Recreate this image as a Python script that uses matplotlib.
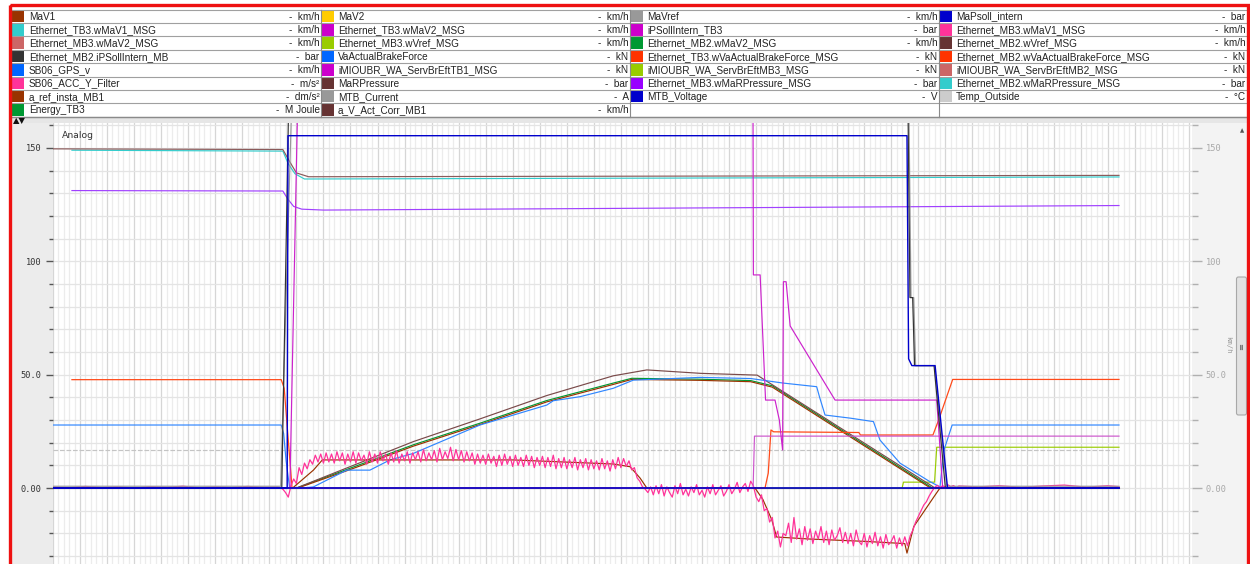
import numpy as np
import matplotlib.pyplot as plt
from matplotlib.patches import Rectangle, FancyBboxPatch
from matplotlib.ticker import MultipleLocator

# ---------------- legend table (4 columns) ----------------
names1 = ["MaV1", "Ethernet_TB3.wMaV1_MSG", "Ethernet_MB3.wMaV2_MSG", "Ethernet_MB2.iPSollIntern_MB",
          "SB06_GPS_v", "SB06_ACC_Y_Filter", "a_ref_insta_MB1", "Energy_TB3"]
units1 = ["km/h", "km/h", "km/h", "bar", "km/h", "m/s\u00b2", "dm/s\u00b2", "M Joule"]
colors1 = ["#993300", "#33cccc", "#cc6666", "#333333", "#0066ff", "#ff3399", "#993300", "#009933"]

names2 = ["MaV2", "Ethernet_TB3.wMaV2_MSG", "Ethernet_MB3.wVref_MSG", "VaActualBrakeForce",
          "iMIOUBR_WA_ServBrEftTB1_MSG", "MaRPressure", "MTB_Current", "a_V_Act_Corr_MB1"]
units2 = ["km/h", "km/h", "km/h", "kN", "kN", "bar", "A", "km/h"]
colors2 = ["#ffcc00", "#cc00cc", "#99cc00", "#0066ff", "#cc00cc", "#663333", "#999999", "#663333"]

names3 = ["MaVref", "iPSollIntern_TB3", "Ethernet_MB2.wMaV2_MSG", "Ethernet_TB3.wVaActualBrakeForce_MSG",
          "iMIOUBR_WA_ServBrEftMB3_MSG", "Ethernet_MB3.wMaRPressure_MSG", "MTB_Voltage"]
units3 = ["km/h", "bar", "km/h", "kN", "kN", "bar", "V"]
colors3 = ["#999999", "#cc00cc", "#009933", "#ff3300", "#99cc00", "#9900ff", "#0000cc"]

names4 = ["MaPsoll_intern", "Ethernet_MB3.wMaV1_MSG", "Ethernet_MB2.wVref_MSG",
          "Ethernet_MB2.wVaActualBrakeForce_MSG", "iMIOUBR_WA_ServBrEftMB2_MSG",
          "Ethernet_MB2.wMaRPressure_MSG", "Temp_Outside"]
units4 = ["bar", "km/h", "km/h", "kN", "kN", "bar", "\u00b0C"]
colors4 = ["#0000cc", "#ff3399", "#663333", "#ff3300", "#cc6666", "#33cccc", "#cccccc"]

# ---------------- signals (time in s, values in axis units) ----------------
t_top = [0, 85.0, 87.5, 90.0, 94.5, 394.2]
v_top = [149.6, 149.3, 144, 139, 137.3, 137.9]

t_cyan = [7.0, 85.0, 87.0, 89.5, 93.0, 394.2]
v_cyan = [149.0, 148.6, 143, 138.6, 136.3, 137.2]

t_purple = [7.0, 85.0, 86.8, 89.0, 92.0, 100, 394.2]
v_purple = [131.2, 131.0, 127.5, 124.2, 123.0, 122.6, 124.6]

t_ramp_hi = [0, 90.0, 110, 133.3, 157.9, 182.6, 207.2, 219.6, 239.3, 260.4, 326.2, 394.2]
v_ramp_hi = [0, 0, 9.5, 20.5, 30.5, 40.8, 49.5, 52.1, 50.6, 49.8, 0, 0]

t_mav1 = [0, 90.5, 110, 133.3, 157.9, 182.6, 207.2, 214, 239.3, 258, 266, 324.5, 394.2]
v_mav1 = [0, 0, 8.2, 18.5, 28.0, 38.0, 45.7, 47.9, 47.5, 46.9, 44.5, 0, 0]

t_mav2 = [0, 90.0, 110, 133.3, 157.9, 182.6, 207.2, 214, 239.3, 258, 266, 325.2, 394.2]
v_mav2 = [0, 0, 8.8, 19.1, 28.6, 38.6, 46.3, 48.4, 48.0, 47.4, 45.1, 0, 0]

t_gps = [0, 84.4, 85.3, 86.2, 87.5, 92.0, 96.3, 108.6, 117.2, 124.6, 133.3, 157.9, 182.6, 185,
         194.9, 207.2, 214.6, 239.3, 258, 270, 282.4, 283.5, 285.5, 295, 303.4, 305.8,
         313.2, 324.3, 328.0, 329.5, 332.5, 394.2]
v_gps = [27.8, 27.8, 24, 12, 0, 0, 0.5, 7.9, 7.9, 12.4, 15.3, 27.8, 36.6, 38.5,
         40.3, 44.0, 47.6, 48.8, 48.3, 46.3, 44.7, 40, 32.2, 30.8, 29.3, 21.2,
         11, 2.8, 0.5, 16.8, 27.8, 27.8]

t_volt = [0, 86.6, 86.9, 315.8, 316.4, 317.6, 326.2, 330.8, 394.2]
v_volt = [0, 0, 155.4, 155.4, 57, 54, 54, 0, 0]

t_psoll_mb = [0, 84.6, 87.6, 315.9, 316.9, 317.9, 318.6, 325.8, 330.0, 394.2]
v_psoll_mb = [0, 0, 200, 200, 84, 84, 54, 54, 0, 0]

t_current = [0, 84.2, 89.0, 316.2, 317.3, 318.3, 319.0, 326.0, 330.5, 394.2]
v_current = [0.8, 0.8, 200, 200, 84, 84, 54, 54, 0.8, 0.8]

t_psoll_tb3 = [0, 87.6, 91.0, 258.8, 259.0, 261.5, 263.5, 267.0, 268.6, 269.8, 270.1, 271.1,
               272.6, 289.2, 326.8, 329.0, 394.2]
v_psoll_tb3 = [0, 0, 200, 200, 94, 94, 38.8, 38.8, 30, 16.8, 91, 91, 71.5, 38.8, 38.8, 0, 0]

t_brake_tb1 = [0, 258.9, 259.4, 394.2]
v_brake_tb1 = [0, 0, 22.9, 22.9]

t_force = [7.0, 84.4, 85.5, 88.4, 263.3, 264.5, 265.5, 266.5, 298.0, 298.6, 325.4, 327.5, 332.7, 394.2]
v_force = [47.8, 47.8, 44, 0, 0, 6.6, 25.6, 24.8, 24.5, 23.4, 23.4, 30, 47.9, 47.9]

t_brake_mb3 = [0, 314.0, 314.5, 326.0, 326.8, 394.2]
v_brake_mb3 = [0, 0, 2.6, 2.6, 18.0, 18.0]

t_temp = [0, 394.2]
v_temp = [16.8, 16.8]

t_zero = [0, 394.2]
v_zero = [0, 0]

t_aref = [0, 88.6, 96.3, 99.6, 170, 207.2, 213.4, 217.1, 219.6, 259.6, 262.5, 265.8, 267.6, 280,
          300, 315.0, 315.8, 318.3, 325.8, 328.0, 394.2]
v_aref = [0, 0, 7.9, 12.4, 12.4, 10.6, 9.4, 4.4, 0, 0, -5, -14, -21.6, -22.5,
          -23.5, -24.5, -28.7, -17, -3.8, 0, 0]

# acceleration, sparse before/after, 1 s samples from t=84
acc_t_pre = [0, 6, 12, 18, 24, 30, 36, 42, 48, 54, 60, 66, 72, 78, 83]
acc_v_pre = [0.4, 0.1, 0.7, 0.2, 0.5, 0.0, 0.6, 0.3, 0.8, 0.1, 0.5, 0.2, 0.7, 0.3, 0.4]
acc_v_main = [
    0.2, -0.5, -2.0, -4.0, 1.0, 4.0, 2.0, 9.0, 6.0, 11.0, 8.5, 12.5, 10.5, 14.5, 11.5, 15.0,
    11.0, 15.5, 11.5, 15.0, 11.0, 16.0, 12.0, 15.5, 10.5, 15.0, 11.5, 16.0, 11.0, 15.5, 12.0, 14.5, 10.5, 16.0, 11.5, 15.0,
    11.0, 16.0, 12.0, 15.0, 10.5, 15.5, 11.5, 16.5, 11.0, 15.0, 12.0, 16.0, 11.0, 15.5, 12.5, 16.0, 11.5, 17.0, 12.0, 15.5,
    12.5, 16.5, 11.5, 17.5, 12.5, 16.0, 13.0, 18.0, 12.0, 17.0, 12.5, 16.5, 11.5, 16.0, 12.0, 15.5, 10.5, 15.0, 11.0, 14.5,
    10.5, 15.0, 11.0, 14.0, 9.5, 14.5, 10.0, 15.0, 10.5, 14.0, 9.5, 14.5, 10.0, 13.5, 9.5, 14.5, 10.0, 14.0, 9.0, 13.5,
    10.0, 14.0, 9.0, 13.5, 9.5, 14.5, 8.5, 13.0, 9.0, 13.5, 8.5, 12.5, 9.0, 13.5, 8.0, 12.5, 9.0, 13.0, 8.0, 12.5,
    8.5, 12.0, 8.0, 13.0, 8.5, 12.0, 7.5, 12.5, 8.5, 13.5, 9.0,
    13.0, 9.5, 12.0, 8.0, 9.0, 4.5, 3.0, 0.5, -0.5, -2.0, 0.5,
    -3.0, 1.0, -2.5, 1.5, -3.5, 0.5, -2.0, -4.0, 1.0, -2.5, 2.0, -3.0, -0.5, -3.5, 0.5, -2.0, 1.5, -3.0, -1.0,
    -4.0, 0.5, -2.5, 1.5, -3.0, -1.0, 1.0, -3.5, -1.5, 1.5, -2.5, -0.5, 2.5, -2.0, 0.5, 2.0, -1.5, 3.0,
    1.0, -4.0, -6.0, -3.0, -10.0, -9.0, -15.0, -13.0, -22.0, -19.0, -26.0, -20.0,
    -21.0, -15.5, -24.0, -13.0, -22.5, -18.0, -25.0, -17.0, -23.0, -18.0, -24.5, -19.0, -22.5, -17.0, -24.0, -19.0,
    -25.0, -18.5, -23.0, -21.0, -17.5, -24.0, -19.5, -24.5, -20.0, -25.5, -18.5, -23.5, -25.0, -20.0, -26.0, -21.0,
    -24.5, -19.5, -25.5, -21.5, -26.5, -20.5, -25.0, -23.5, -21.0, -26.5, -22.0, -25.5, -21.5, -25.5,
    -21.0, -18.5, -15.0, -12.5, -10.0, -7.5, -6.0, -3.5, -1.5, 0.2, 1.2,
    0.3, 1.0, 0.4, 1.4, 0.6, 1.1, 0.2, 0.9]
acc_t_post = [342, 350, 358, 366, 374, 382, 390, 394.2]
acc_v_post = [0.5, 1.0, 0.3, 0.9, 1.3, 0.4, 1.0, 0.6]

acc_t = acc_t_pre + list(np.arange(84, 84 + len(acc_v_main))) + acc_t_post
acc_v = acc_v_pre + acc_v_main + acc_v_post

# ---------------- figure ----------------
W, H = 1250, 564
fig = plt.figure(figsize=(W / 100, H / 100), dpi=100)
fig.patch.set_facecolor("white")

bg = fig.add_axes([0, 0, 1, 1], zorder=0)
bg.set_xlim(0, W)
bg.set_ylim(H, 0)
bg.axis("off")

col_x0 = [11, 321, 630, 939]
col_x1 = [321, 630, 939, 1247]
text_dx = [18, 17, 17, 17]
row_top, row_h = 9.5, 13.4
cols = [(names1, units1, colors1), (names2, units2, colors2),
        (names3, units3, colors3), (names4, units4, colors4)]

for c, (nm, un, co) in enumerate(cols):
    for r in range(len(nm)):
        y0 = row_top + r * row_h
        bg.add_patch(Rectangle((col_x0[c] + 1, y0 + 0.8), 12, row_h - 1.6, fc=co[r], ec="none"))
        bg.text(col_x0[c] + text_dx[c], y0 + row_h / 2 + 0.4, nm[r], fontsize=7.2,
                family="Liberation Sans", color="#222222", va="center", ha="left")
        bg.text(col_x1[c] - 1.5, y0 + row_h / 2 + 0.4, "-  " + un[r], fontsize=7.2,
                family="Liberation Sans", color="#222222", va="center", ha="right", clip_on=True)
    for r in range(9):
        y = row_top + r * row_h
        bg.plot([col_x0[c], col_x1[c]], [y, y], color="#a0a0a0", lw=0.8)
    bg.plot([col_x0[c], col_x0[c]], [row_top, row_top + 8 * row_h], color="#8a8a8a", lw=0.8)

# strip under the table
bg.add_patch(Rectangle((11, 117), 1236, 6, fc="#e6e6e6", ec="none"))
bg.plot([11, 1247], [117, 117], color="#8a8a8a", lw=1)
bg.text(13, 120.3, "\u25b2\u25bc", fontsize=6, color="#111111", va="center", ha="left")

# side panels
bg.add_patch(Rectangle((11, 123), 42, 441, fc="#ececec", ec="none"))
bg.add_patch(Rectangle((1192, 123), 55, 441, fc="#f3f3f3", ec="none"))

# ---------------- plot area ----------------
ax = fig.add_axes([53 / W, 0, (1192 - 53) / W, (564 - 123) / H], zorder=1)
ax.set_xlim(0, 421.2)
ax.set_ylim(-33.5, 161.0)
ax.set_facecolor("white")
for s in ax.spines.values():
    s.set_visible(False)

ax.xaxis.set_major_locator(MultipleLocator(10))
ax.xaxis.set_minor_locator(MultipleLocator(2))
ax.yaxis.set_major_locator(MultipleLocator(50))
ax.yaxis.set_minor_locator(MultipleLocator(10))
ax.grid(True, axis="x", which="major", color="#d6d6d6", lw=0.9)
ax.grid(True, axis="x", which="minor", color="#ececec", lw=0.9)
ax.grid(True, axis="y", which="both", color="#e4e4e4", lw=0.9)
ax.set_axisbelow(True)
ax.tick_params(axis="x", which="both", length=0, labelbottom=False)
ax.tick_params(axis="y", which="major", length=5, width=1, color="#555555", pad=3,
               labelsize=6.2, labelcolor="#333333", direction="out")
ax.tick_params(axis="y", which="minor", length=3, width=1, color="#555555", direction="out")
ax.set_yticks([0, 50, 100, 150])
ax.set_yticklabels(["0.00", "50.0", "100", "150"], family="DejaVu Sans Mono")

ax2 = ax.twinx()
ax2.set_ylim(-33.5, 161.0)
for s in ax2.spines.values():
    s.set_visible(False)
ax2.yaxis.set_major_locator(MultipleLocator(50))
ax2.yaxis.set_minor_locator(MultipleLocator(10))
ax2.set_yticks([0, 50, 100, 150])
ax2.set_yticklabels(["0.00", "50.0", "100", "150"], family="DejaVu Sans Mono")
ax2.tick_params(axis="y", which="major", length=7, width=1, color="#b0b0b0", pad=3,
                labelsize=6.2, labelcolor="#a8a8a8")
ax2.tick_params(axis="y", which="minor", length=4, width=1, color="#b0b0b0")

lw = 0.85
ax.plot(t_temp, v_temp, color="#c4c4c4", lw=lw, ls=(0, (4, 1.5)), zorder=2)
ax.plot(t_zero, v_zero, color="#777777", lw=lw, zorder=2)
ax.plot(t_brake_mb3, v_brake_mb3, color="#99cc00", lw=lw, zorder=3)
ax.plot(t_mav2, v_mav2, color="#009933", lw=lw, zorder=3)
ax.plot(t_mav1, v_mav1, color="#993300", lw=lw, zorder=3)
ax.plot(t_ramp_hi, v_ramp_hi, color="#7a4a4a", lw=lw, zorder=3)
ax.plot(t_force, v_force, color="#ff4a1a", lw=0.9, zorder=3)
ax.plot(t_gps, v_gps, color="#2f86ff", lw=lw, zorder=3)
ax.plot(t_aref, v_aref, color="#993300", lw=lw, zorder=4)
ax.plot(acc_t, acc_v, color="#ff3399", lw=0.9, zorder=4)
ax.plot(t_brake_tb1, v_brake_tb1, color="#cc55cc", lw=lw, zorder=4)
ax.plot(t_psoll_tb3, v_psoll_tb3, color="#cc22cc", lw=lw, zorder=5)
ax.plot(t_purple, v_purple, color="#a040ff", lw=lw, zorder=4)
ax.plot(t_cyan, v_cyan, color="#33cccc", lw=lw, zorder=4)
ax.plot(t_top, v_top, color="#8a5a5a", lw=lw, zorder=4)
ax.plot(t_current, v_current, color="#999999", lw=lw, zorder=5)
ax.plot(t_psoll_mb, v_psoll_mb, color="#333333", lw=lw, zorder=5)
ax.plot(t_zero, v_zero, color="#0000cc", lw=1.2, zorder=5)
ax.plot(t_volt, v_volt, color="#0000cc", lw=1.0, zorder=6)

# ---------------- overlay ----------------
top = fig.add_axes([0, 0, 1, 1], zorder=3)
top.set_xlim(0, W)
top.set_ylim(H, 0)
top.axis("off")
top.patch.set_alpha(0)
top.text(62, 136, "Analog", fontsize=6.7, color="#333333", va="center", ha="left")
top.text(1228, 345, "km/h", fontsize=5.2, color="#999999", family="DejaVu Sans Mono",
         rotation=270, va="center", ha="center")
top.add_patch(FancyBboxPatch((1236.5, 277), 10, 138, boxstyle="round,pad=0,rounding_size=2",
                             fc="#e2e2e2", ec="#a8a8a8", lw=0.8))
top.text(1241.5, 346, "\u2261", fontsize=6, color="#555555", rotation=90, va="center", ha="center")
top.text(1242, 131, "\u25b2", fontsize=4, color="#555555", va="center", ha="center")
top.add_patch(Rectangle((10, 5), 1237.5, 570, fill=False, ec="#ee1111", lw=2.4))

fig.savefig("out.png", dpi=100)
